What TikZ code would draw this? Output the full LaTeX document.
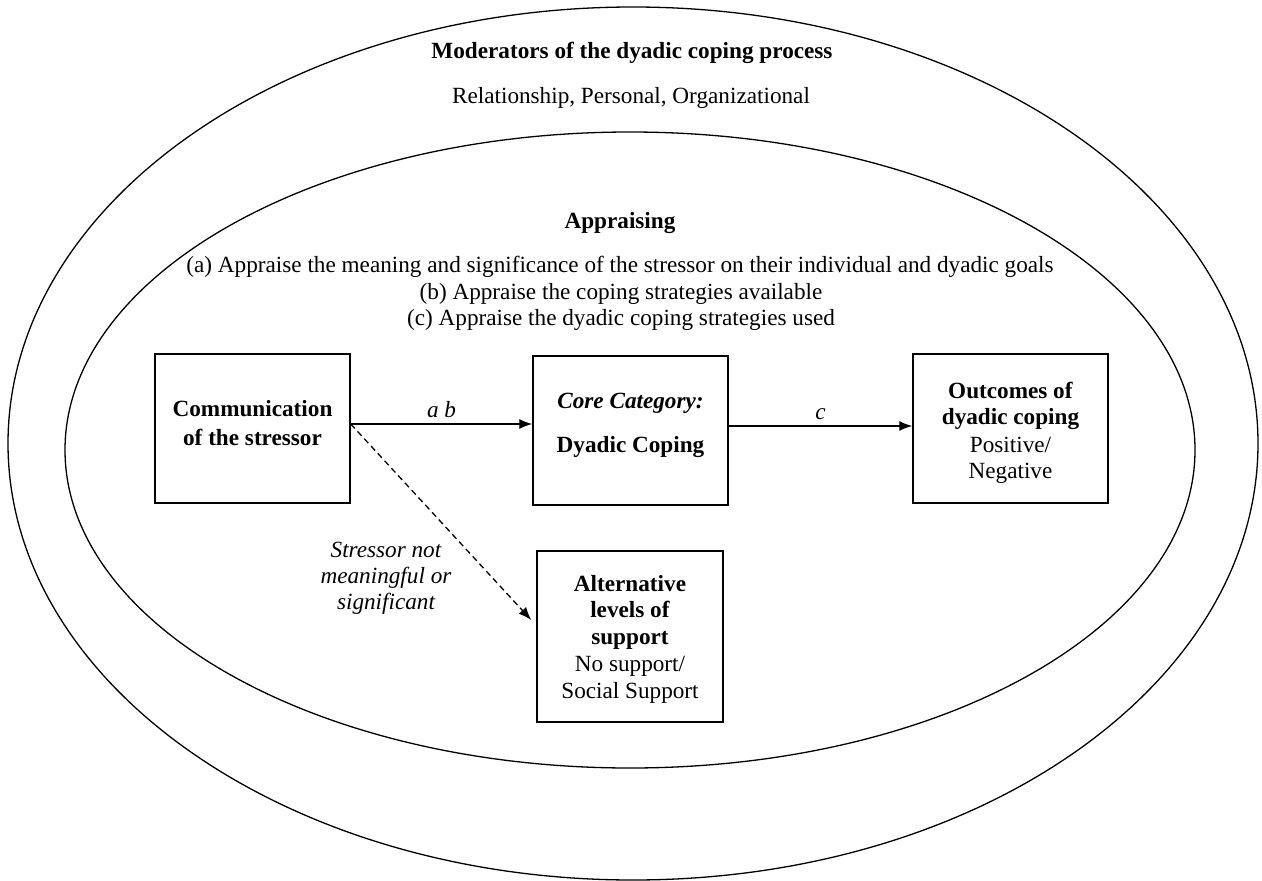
\documentclass[tikz,border=0pt]{standalone}
\usepackage{fontspec}
\setmainfont{Liberation Serif}
\usetikzlibrary{arrows.meta}
\begin{document}
\begin{tikzpicture}[x=1pt,y=-1pt,
  ring/.style={draw, line width=1.3pt},
  box/.style={draw, line width=1.4pt, inner sep=0pt, minimum width=195pt, minimum height=149pt},
  boxtxt/.style={align=center, inner sep=0pt, font=\fontsize{23.2}{26}\selectfont},
  arr/.style={line width=1.3pt, -{Latex[length=13pt,width=10pt]}},
  lab/.style={font=\fontsize{23.2}{26}\selectfont\itshape},
  txt/.style={anchor=base, inner sep=0pt, font=\fontsize{23.2}{28}\selectfont}]

\useasboundingbox (0,0) rectangle (1262,881);

% rings
\draw[ring] (633,443.5) ellipse [x radius=625pt, y radius=436.5pt];
\draw[ring] (630,450) ellipse [x radius=565pt, y radius=318pt];

% titles
\node[txt] (modt) at (632,58) {\bfseries Moderators of the dyadic coping process};
\node[txt] (modl) at (631,103) {Relationship, Personal, Organizational};
\node[txt] (appt) at (620,228) {\bfseries Appraising};
\node[txt] (appa) at (620,272) {(a) Appraise the meaning and significance of the stressor on their individual and dyadic goals};
\node[txt] (appb) at (621,299) {(b) Appraise the coping strategies available};
\node[txt] (appc) at (621,325) {(c) Appraise the dyadic coping strategies used};

% boxes
\node[box] (comm) at (252.5,428.5) {};
\node[boxtxt] (commt) at (252.5,423.5)
  {\textbf{Communication}\\[3pt]\textbf{of the stressor}};
\node[box] (core) at (630.5,430.5) {};
\node[boxtxt] (coret) at (630.5,425)
  {\textbf{\textit{Core Category:}}\\[18pt]\textbf{Dyadic Coping}};
\node[box] (out) at (1010.5,428.5) {};
\node[boxtxt] (outt) at (1010.5,433)
  {\textbf{Outcomes of}\\\textbf{dyadic coping}\\[2pt]Positive/\\Negative};
\node[box, minimum width=186pt, minimum height=171pt] (alt) at (630,636.5) {};
\node[boxtxt] (altt) at (630,639.5)
  {\textbf{Alternative}\\\textbf{levels of}\\[1pt]\textbf{support}\\[1pt]No support/\\[1pt]Social Support};

% connectors
\coordinate (cs) at ([yshift=4.5pt]comm.east);
\coordinate (ce) at ([yshift=4.5pt]core.east);
\draw[arr] (cs) -- (cs -| core.west) node[midway, above=2pt, lab] {a b};
\draw[arr] (ce) -- (ce -| out.west) node[midway, above=2pt, lab] {c};
\coordinate (dt) at ([xshift=-5pt, yshift=16.5pt]alt.west);
\draw[arr, dashed, dash pattern=on 6pt off 4pt] (cs) -- (dt);
\node[lab, align=center, inner sep=0pt] (dlab) at (386,578)
  {Stressor not\\meaningful or\\significant};
\end{tikzpicture}
\end{document}
